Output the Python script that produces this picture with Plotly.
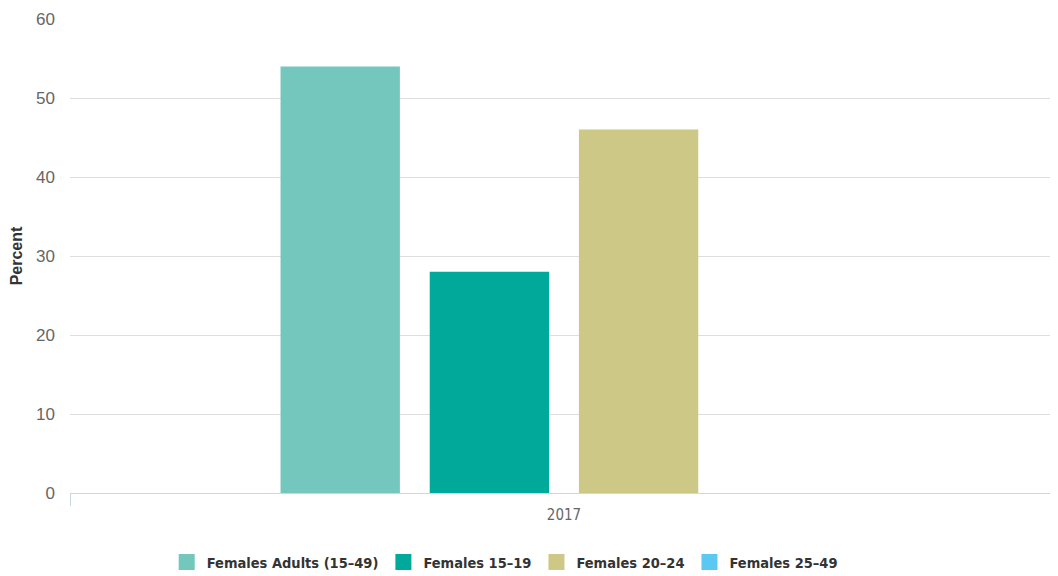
import plotly.graph_objects as go

categories = ["2017"]
series_names = ["Females Adults (15\u201349)", "Females 15\u201319", "Females 20\u201324", "Females 25\u201349"]
series_values = [[54], [28], [46], [None]]
colors = ["#73c7bd", "#00a99a", "#cdc886", "#5bc8f2"]

fig = go.Figure()
for name, vals, c in zip(series_names, series_values, colors):
    fig.add_trace(go.Bar(x=categories, y=vals, name=name, legendgroup=name, showlegend=False,
                         marker=dict(color=c, line=dict(width=0))))
# legend entries with larger square swatches
for name, c in zip(series_names, colors):
    fig.add_trace(go.Scatter(x=[None], y=[None], name=name, legendgroup=name, mode="markers",
                             marker=dict(symbol="square", size=18, color=c), hoverinfo="skip"))

fig.update_layout(
    width=1050, height=568,
    margin=dict(l=62, r=0, t=11, b=83, autoexpand=False),
    paper_bgcolor="white", plot_bgcolor="white",
    barmode="group", bargap=0.396, bargroupgap=0.2,
    showlegend=True,
    legend=dict(orientation="h", x=0.44, xanchor="center", y=-0.112, yanchor="top",
                font=dict(family="DejaVu Sans Condensed, Liberation Sans Narrow, sans-serif", size=14.5, color="#333333",
                          weight="bold"),
                itemsizing="trace", traceorder="normal"),
    font=dict(family="Liberation Sans, Arial, sans-serif"),
)
fig.update_xaxes(type="category", showline=True, linecolor="#ccd6eb", linewidth=1, automargin=False,
                 ticks="outside", tickson="boundaries", ticklen=12, tickcolor="#ccd6eb",
                 ticklabelstandoff=8,
                 tickfont=dict(family="DejaVu Sans Condensed, Liberation Sans Narrow, sans-serif", size=15, color="#666666"),
                 showgrid=False)
fig.update_yaxes(range=[0, 60], dtick=10, showgrid=True, gridcolor="#dedede", gridwidth=1,
                 zeroline=False, showline=False, automargin=False,
                 tickfont=dict(size=17, color="#666666"), ticklabelstandoff=14,
                 title=dict(text="<b>Percent</b>", font=dict(size=16, color="#333333"), standoff=24))

fig.write_html("out.html")
